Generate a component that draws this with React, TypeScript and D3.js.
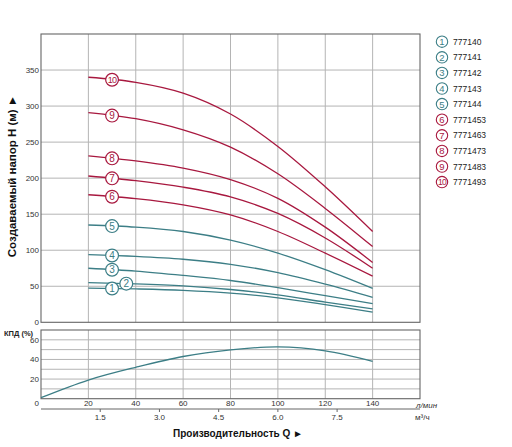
import React from "react";
import * as d3 from "d3";

// flow points, l/min
const flowPoints = [20, 40, 60, 80, 100, 120, 140];

// head curves H (m) for each pump, read at flowPoints
const head1 = [47.5, 46.3, 44.3, 40.5, 34, 24.5, 14];
const head2 = [55, 53.3, 50.5, 45.5, 38, 28, 18.5];
const head3 = [75, 71, 65, 58, 48, 37, 26];
const head4 = [94, 91.5, 87.5, 80.5, 69, 53, 34.7];
const head5 = [135, 132, 126, 114, 96, 73, 47];
const head6 = [177, 171.5, 163, 149, 126, 96, 64];
const head7 = [203, 196.5, 187.5, 174, 151, 117, 75];
const head8 = [231, 224, 214, 198, 172, 132, 83];
const head9 = [291, 282.5, 267, 243, 206, 158, 105];
const head10 = [340, 333, 318, 289, 244, 188, 126];

const heads = [head1, head2, head3, head4, head5, head6, head7, head8, head9, head10];
const models = [
  "777140",
  "777141",
  "777142",
  "777143",
  "777144",
  "7771453",
  "7771463",
  "7771473",
  "7771483",
  "7771493",
];
// where the numbered marker sits on each curve (l/min)
const markerFlow = [30, 36, 30, 30, 30, 30, 30, 30, 30, 30];

// efficiency curve
const effFlow = [0, 20, 40, 60, 80, 100, 120, 140];
const effValues = [1, 19, 32, 43, 49.7, 52.8, 48.7, 38];

const flowTicks = [0, 20, 40, 60, 80, 100, 120, 140];
const headTicks = [0, 50, 100, 150, 200, 250, 300, 350];
const headGrid = [50, 100, 150, 200, 250, 300, 350];
const effTicks = [20, 40, 60];
const effGrid = [10, 20, 30, 40, 50, 60];
const m3Ticks = [1.5, 3.0, 4.5, 6.0, 7.5];

const TEAL = "#3c7e86";
const RED = "#a8183f";
const GRID = "#b4b4b4";
const FRAME = "#666";
const FONT = "Liberation Sans, Arial, sans-serif";

const App: React.FC = () => {
  const width = 512;
  const height = 447;

  const x = d3.scaleLinear().domain([0, 160]).range([41, 420]);
  const y = d3.scaleLinear().domain([0, 400]).range([322.3, 34]);
  const yE = d3.scaleLinear().domain([0, 70]).range([398.7, 330]);

  const headLine = d3
    .line<number>()
    .x((_, i) => x(flowPoints[i]))
    .y((d) => y(d))
    .curve(d3.curveCatmullRom.alpha(0.5));

  const effLine = d3
    .line<number>()
    .x((_, i) => x(effFlow[i]))
    .y((d) => yE(d))
    .curve(d3.curveCatmullRom.alpha(0.5));

  const colorOf = (i: number) => (i < 5 ? TEAL : RED);

  return (
    <svg
      width={width}
      height={height}
      style={{ position: "absolute", left: 0, top: 0, background: "#fff" }}
      fontFamily={FONT}
    >
      {/* main panel grid */}
      <g stroke={GRID} strokeWidth={1}>
        {headGrid.map((t) => (
          <line key={"h" + t} x1={x(0)} x2={x(160)} y1={y(t)} y2={y(t)} />
        ))}
        {flowTicks.slice(1).map((t) => (
          <line key={"v" + t} x1={x(t)} x2={x(t)} y1={y(400)} y2={y(0)} />
        ))}
      </g>
      <rect
        x={x(0)}
        y={y(400)}
        width={x(160) - x(0)}
        height={y(0) - y(400)}
        fill="none"
        stroke={FRAME}
        strokeWidth={1.1}
      />
      <g fontSize={8} fill="#333" textAnchor="end">
        {headTicks.map((t) => (
          <text key={t} x={39} y={y(t)} dy="0.35em">
            {t}
          </text>
        ))}
      </g>

      {/* head curves */}
      <g fill="none" strokeWidth={1.3}>
        {heads.map((h, i) => (
          <path key={i} d={headLine(h) || ""} stroke={colorOf(i)} />
        ))}
      </g>

      {/* numbered markers */}
      {heads.map((h, i) => {
        const interp = d3.scaleLinear().domain(flowPoints).range(h);
        const cx = x(markerFlow[i]);
        const cy = y(interp(markerFlow[i]));
        return (
          <g key={i}>
            <circle cx={cx} cy={cy} r={6.4} fill="#fff" stroke={colorOf(i)} strokeWidth={1.2} />
            <text
              x={cx}
              y={cy}
              dy="0.36em"
              textAnchor="middle"
              fontSize={i === 9 ? 9 : 10}
              fill={colorOf(i)}
              letterSpacing={i === 9 ? -0.7 : 0}
            >
              {i + 1}
            </text>
          </g>
        );
      })}

      {/* legend */}
      {models.map((m, i) => {
        const cy = 41.7 + i * 15.6;
        return (
          <g key={m}>
            <circle cx={442} cy={cy} r={5.7} fill="#fff" stroke={colorOf(i)} strokeWidth={1.1} />
            <text
              x={442}
              y={cy}
              dy="0.36em"
              textAnchor="middle"
              fontSize={i === 9 ? 8.5 : 9.5}
              fill={colorOf(i)}
              letterSpacing={i === 9 ? -0.7 : 0}
            >
              {i + 1}
            </text>
            <text x={453} y={cy} dy="0.36em" fontSize={8.5} fill="#222">
              {m}
            </text>
          </g>
        );
      })}

      {/* efficiency panel */}
      <g stroke={GRID} strokeWidth={1}>
        {effGrid.map((t) => (
          <line key={"eh" + t} x1={x(0)} x2={x(160)} y1={yE(t)} y2={yE(t)} />
        ))}
        {flowTicks.slice(1).map((t) => (
          <line key={"ev" + t} x1={x(t)} x2={x(t)} y1={yE(70)} y2={yE(0)} />
        ))}
      </g>
      <rect
        x={x(0)}
        y={yE(70)}
        width={x(160) - x(0)}
        height={yE(0) - yE(70)}
        fill="none"
        stroke={FRAME}
        strokeWidth={1.1}
      />
      <path d={effLine(effValues) || ""} fill="none" stroke={TEAL} strokeWidth={1.3} />
      <g fontSize={8} fill="#333" textAnchor="end">
        {effTicks.map((t) => (
          <text key={t} x={39} y={yE(t)} dy="0.35em">
            {t}
          </text>
        ))}
      </g>
      <text x={4} y={333} dy="0.35em" fontSize={7.5} fontWeight="bold" fill="#222">
        КПД (%)
      </text>

      {/* flow axis l/min */}
      <g fontSize={8} fill="#333">
        {flowTicks.map((t) => (
          <text
            key={t}
            x={t === 0 ? x(t) - 2 : x(t)}
            y={403.5}
            dy="0.35em"
            textAnchor={t === 0 ? "end" : "middle"}
          >
            {t}
          </text>
        ))}
      </g>
      <text x={416} y={405.5} dy="0.35em" fontSize={8} fontStyle="italic" fill="#333">
        л/мин
      </text>

      {/* flow axis m3/h */}
      <line x1={x(0)} x2={x(160)} y1={409} y2={409} stroke={FRAME} strokeWidth={1.1} />
      {m3Ticks.map((t) => {
        const px = x((t * 1000) / 60);
        return (
          <g key={t}>
            <line x1={px} x2={px} y1={409} y2={412} stroke={FRAME} strokeWidth={1} />
            <text x={px} y={417} dy="0.35em" fontSize={8} fill="#333" textAnchor="middle">
              {t.toFixed(1)}
            </text>
          </g>
        );
      })}
      <text x={415} y={417} dy="0.35em" fontSize={8} fill="#333">
        м³/ч
      </text>

      {/* axis titles */}
      <text x={238} y={436.5} fontSize={10} fontWeight="bold" fill="#111" textAnchor="middle">
        Производительность Q ►
      </text>
      <text
        transform="translate(16,176) rotate(-90)"
        fontSize={11.5}
        fontWeight="bold"
        fill="#111"
        textAnchor="middle"
      >
        Создаваемый напор H (м) ►
      </text>
    </svg>
  );
};

export default App;
